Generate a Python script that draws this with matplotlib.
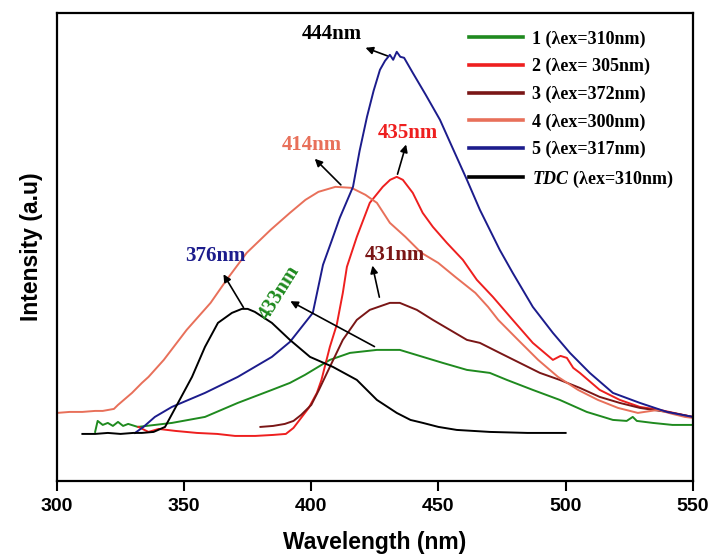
import matplotlib
matplotlib.use("Agg")
import matplotlib.pyplot as plt

plt.rcParams['mathtext.fontset'] = 'custom'
plt.rcParams['mathtext.it'] = 'Liberation Serif:italic:bold'
plt.rcParams['mathtext.rm'] = 'Liberation Serif:bold'

# emission spectra (x in nm, intensity in a.u.)
x1 = [315, 316, 318, 320, 322, 324, 326, 328, 331.8, 345.2, 358.2, 371.1, 384.5, 391.6, 397.5, 407.3,
      415.2, 425.8, 434.8, 443.9, 451.7, 461.2, 470.2, 476.9, 487.1, 497.7, 508.3, 518.6, 524, 526.4,
      528, 534.3, 542, 550]
y1 = [49, 60, 56, 58, 55, 59, 55, 57, 54, 58, 64, 78, 91, 98, 106, 121,
      128, 131, 131, 124, 118, 111, 108, 101, 91, 81, 69, 61, 60, 64,
      60, 58, 56, 56]

x2 = [332, 336, 340, 346.6, 355, 363, 370, 378, 385, 390, 393, 396, 399, 402.2, 404, 407.3, 410,
      412.4, 414, 417.9, 423, 428.1, 431, 433.6, 436, 439.9, 443.8, 447.8, 453.3, 459.6, 465.1,
      471.4, 479.2, 487.1, 495, 498, 500.5, 503, 505.6, 513.4, 521.3, 529.2, 537, 550]
y2 = [54, 49, 52, 50, 48, 47, 45, 45, 46, 47, 53, 63, 73, 88, 101, 134, 156,
      188, 214, 244, 278, 294, 301, 304, 301, 288, 268, 254, 238, 221, 201,
      184, 161, 138, 121, 125, 123, 113, 108, 91, 81, 74, 71, 64]

x3 = [380, 385, 389.6, 393, 396, 400, 403, 407.3, 412.4, 417.9, 423, 430.9, 434.8, 441.5, 447.8,
      454.5, 461.2, 466.3, 474.1, 482, 489.9, 497.7, 505.6, 513.4, 521.3, 529.2, 539.8, 550]
y3 = [54, 55, 57, 60, 66, 76, 91, 114, 141, 161, 171, 178, 178, 171, 161,
      151, 141, 138, 128, 118, 108, 101, 93, 84, 78, 73, 69, 64]

x4 = [300, 305, 310, 315, 318, 322.4, 324, 329.5, 333.4, 336, 342, 351, 360.4, 366.7, 374.6, 384,
      391.6, 397.7, 402.8, 409.5, 415.8, 421.3, 425.8, 430.9, 437, 443.3, 449.9, 456.6, 464.5,
      469.5, 473.5, 481.3, 489.2, 497, 504.9, 512.7, 520.6, 528.4, 536.3, 542, 546.9, 550]
y4 = [68, 69, 69, 70, 70, 72, 76, 88, 98, 104, 121, 151, 178, 201, 228, 251,
      268, 281, 289, 294, 293, 286, 278, 258, 244, 228, 218, 204, 188,
      174, 161, 141, 121, 104, 91, 81, 73, 68, 71, 67, 64, 63]

x5 = [330.7, 334, 338.5, 345.2, 358.2, 371.1, 384.5, 391.6, 400.6, 404.6, 408, 411.2, 416.4, 419,
      421.9, 424.5, 427, 429, 430.9, 432.2, 433.6, 435, 436.5, 439.9, 445, 450.6, 455, 461.2, 466.3,
      474.1, 479.2, 487.1, 495, 501.7, 509.5, 518.6, 529.2, 539.8, 550]
y5 = [48, 54, 64, 74, 88, 104, 124, 139, 168, 216, 240, 263, 294, 330,
      364, 390, 411, 420, 426, 421, 429, 424, 423, 408, 386, 361, 336, 301, 271,
      231, 208, 174, 148, 128, 108, 88, 78, 69, 64]

x_tdc = [310, 315, 320, 325, 330, 333.4, 338, 342.5, 347.6, 353.1, 358.2, 363.3, 368.8, 372.7, 375,
         377.8, 384.5, 391.6, 399.5, 408.5, 417.9, 425.8, 433.6, 439, 443.9, 450, 457.2, 470.2, 485, 500]
y_tdc = [47, 47, 48, 47, 48, 48, 49, 54, 78, 104, 134, 158, 168, 172, 172,
         169, 158, 141, 124, 114, 101, 81, 68, 61, 58, 54, 51, 49, 48, 48]

labels = ['1 (\u03bbex=310nm)', '2 (\u03bbex= 305nm)', '3 (\u03bbex=372nm)',
          '4 (\u03bbex=300nm)', '5 (\u03bbex=317nm)', '$TDC$ (\u03bbex=310nm)']
colors = ['#1f8a1f', '#ee1f1f', '#7a1616', '#e8705a', '#1c1c8c', '#000000']

fig = plt.figure(figsize=(7.12, 5.56), dpi=100)
ax = fig.add_axes([0.080, 0.135, 0.893, 0.842])

series = [(x1, y1), (x2, y2), (x3, y3), (x4, y4), (x5, y5), (x_tdc, y_tdc)]
for (xs, ys), c, lab in zip(series, colors, labels):
    ax.plot(xs, ys, color=c, lw=1.4, label=lab)

ax.set_xlim(300, 550)
ax.set_ylim(0, 468)
ax.set_xticks([300, 350, 400, 450, 500, 550])
ax.set_yticks([])
ax.tick_params(axis='x', direction='out', length=7, width=1.5, labelsize=14, pad=5)
for lab in ax.get_xticklabels():
    lab.set_fontweight('bold')
    lab.set_family('Liberation Sans')
for s in ax.spines.values():
    s.set_linewidth(1.6)

ax.set_xlabel('Wavelength (nm)', fontsize=16.5, fontweight='bold', family='Liberation Sans', labelpad=12)
ax.set_ylabel('Intensity (a.u)', fontsize=16.5, fontweight='bold', family='Liberation Sans', labelpad=10)

leg = ax.legend(loc='upper left', bbox_to_anchor=(0.623, 0.997), frameon=False,
                prop={'family': 'Liberation Serif', 'weight': 'bold', 'size': 13},
                handlelength=3.0, handletextpad=0.45, labelspacing=0.57, borderpad=0.4)
for h in leg.legend_handles:
    h.set_linewidth(2.6)

# peak annotations: (text, text pos, peak pos, arrow head, colour, rotation)
notes = [('444nm', (408.1, 447), (430.9, 424), (420.3, 434), '#000000', 0),
         ('414nm', (400.2, 336), (412.4, 294), (400.6, 324), '#e8705a', 0),
         ('435nm', (438.0, 348), (433.6, 304), (437.6, 339), '#ee1f1f', 0),
         ('431nm', (432.9, 226), (427.0, 181), (423.8, 218), '#7a1616', 0),
         ('376nm', (362.1, 225), (373.9, 171), (364.9, 209), '#1c1c8c', 0),
         ('433nm', (387.7, 188), (425.8, 133), (390.8, 181), '#1f8a1f', 58)]
for txt, tpos, peak, head, c, rot in notes:
    ax.annotate('', xy=head, xytext=peak,
                arrowprops=dict(arrowstyle='-|>', color='black', lw=1.2, mutation_scale=11))
    ax.text(tpos[0], tpos[1], txt, color=c, fontsize=15, fontweight='bold',
            family='Liberation Serif', ha='center', va='center', rotation=rot)

fig.savefig('out.png', dpi=100)
